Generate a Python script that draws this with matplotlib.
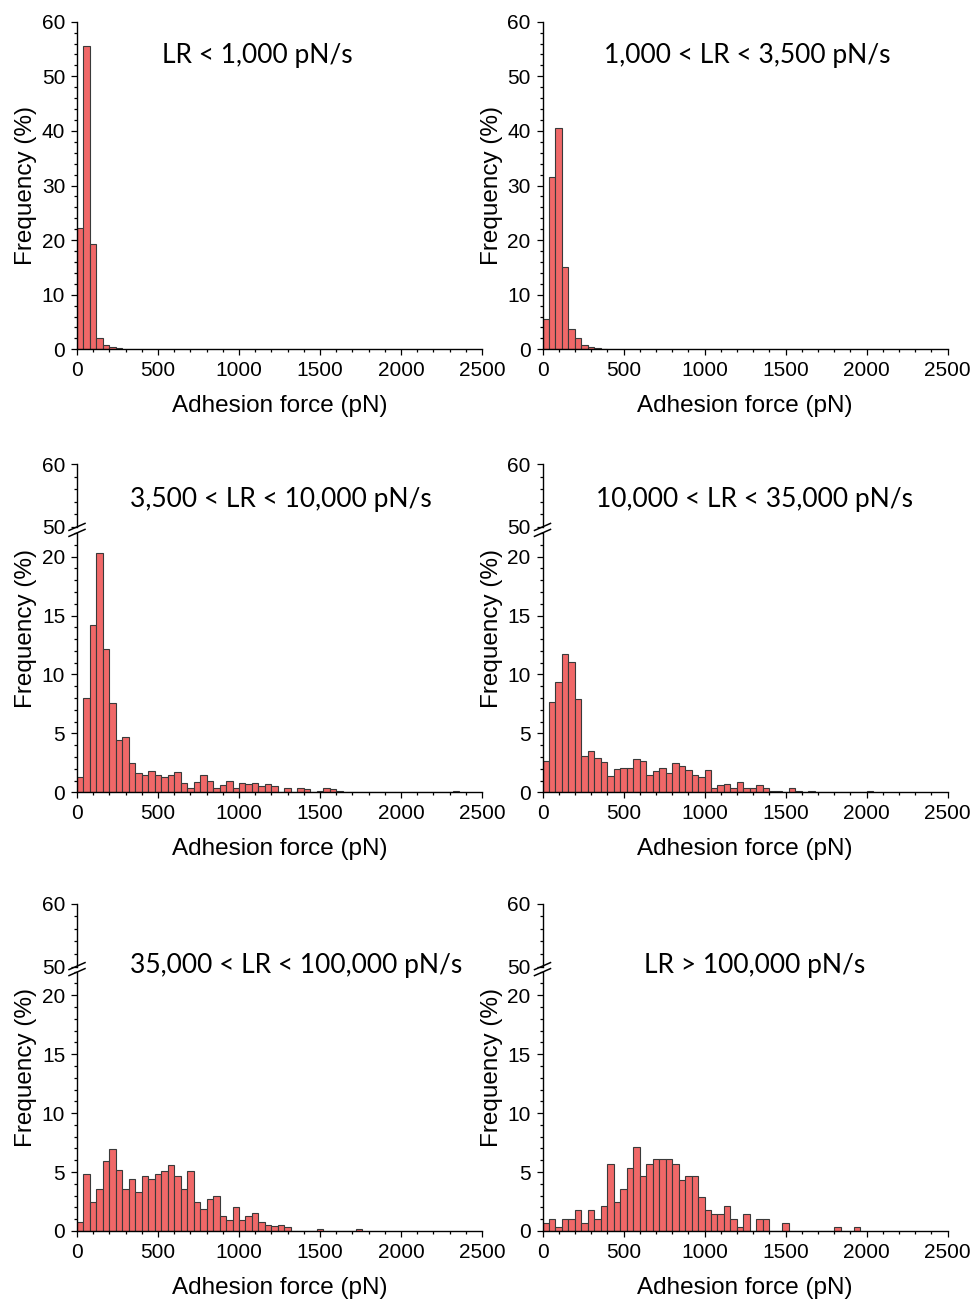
### Adhesion force histograms for six loading-rate ranges
###

import numpy as np
import matplotlib
matplotlib.use("Agg")
import matplotlib.pyplot as plt
from matplotlib.ticker import MultipleLocator

bin_width = 40  # pN

titles = ["LR < 1,000 pN/s",
          "1,000 < LR < 3,500 pN/s",
          "3,500 < LR < 10,000 pN/s",
          "10,000 < LR < 35,000 pN/s",
          "35,000 < LR < 100,000 pN/s",
          "LR > 100,000 pN/s"]

# frequency (%) per 40 pN bin, starting at 0 pN
freq_lr_1k = [22.2, 55.6, 19.2, 2.0, 0.7, 0.4, 0.2]

freq_lr_3k5 = [5.6, 31.5, 40.5, 15.1, 3.8, 2.1, 0.7, 0.4, 0.2, 0.1]

freq_lr_10k = [1.3, 8.0, 14.2, 20.3, 12.2, 7.6, 4.4, 4.7, 2.5, 1.6,
               1.5, 1.8, 1.5, 1.3, 1.5, 1.7, 0.8, 0.4, 0.9, 1.5,
               1.0, 0.4, 0.6, 1.0, 0.4, 0.8, 0.7, 0.8, 0.55, 0.7,
               0.55, 0, 0.4, 0, 0.4, 0.25, 0, 0.1, 0.4, 0.25,
               0.1, 0, 0, 0, 0, 0, 0, 0, 0, 0,
               0, 0, 0, 0, 0, 0, 0, 0, 0.1]

freq_lr_35k = [2.65, 7.7, 9.35, 11.7, 11.05, 7.9, 3.1, 3.5, 2.95, 2.6,
               1.35, 2.0, 2.1, 2.1, 2.8, 2.65, 1.45, 1.8, 2.1, 1.65,
               2.45, 2.2, 1.9, 1.5, 1.3, 1.9, 0.35, 0.6, 0.7, 0.35,
               0.85, 0.35, 0.4, 0.6, 0.35, 0.15, 0.15, 0.05, 0.35, 0.1,
               0, 0.1, 0, 0, 0, 0, 0, 0, 0, 0,
               0.1]

freq_lr_100k = [0.75, 4.85, 2.45, 3.55, 5.95, 6.95, 5.15, 3.55, 4.45, 3.3,
                4.7, 4.45, 4.85, 5.05, 5.6, 4.65, 3.55, 5.05, 2.45, 1.85,
                2.75, 3.0, 1.3, 0.95, 2.0, 0.95, 1.25, 1.5, 0.75, 0.55,
                0.4, 0.55, 0.35, 0, 0, 0, 0, 0.15, 0, 0,
                0, 0, 0, 0.15]

freq_lr_max = [0.7, 1.0, 0.35, 1.0, 1.0, 1.75, 0.7, 1.75, 1.0, 2.1,
               5.7, 2.5, 3.55, 5.35, 7.15, 4.65, 5.7, 6.1, 6.1, 6.1,
               5.7, 4.3, 4.65, 4.65, 2.85, 1.75, 1.4, 1.4, 2.15, 1.0,
               0.35, 1.4, 0, 1.0, 1.0, 0, 0, 0.7, 0, 0,
               0, 0, 0, 0, 0, 0.3, 0, 0, 0.3]

series = [freq_lr_1k, freq_lr_3k5, freq_lr_10k,
          freq_lr_35k, freq_lr_100k, freq_lr_max]

W, H = 975, 1301
bar_color = '#F06868'
edge_color = '#3a3a3a'
tick_font = 'Liberation Sans'
title_font = 'Lato'

fig = plt.figure(figsize=(W / 100, H / 100), dpi=100)


def add_px_axes(x, top, width, bottom):
    # axes placed with pixel coordinates of the figure
    return fig.add_axes([x / W, 1 - bottom / H, width / W, (bottom - top) / H])


def style_ticks(ax):
    ax.tick_params(which='both', direction='out', width=0.9,
                   labelsize=15, pad=4)
    ax.tick_params(which='major', length=4.5)
    ax.tick_params(which='minor', length=2.5)
    for lab in ax.get_xticklabels() + ax.get_yticklabels():
        lab.set_fontfamily(tick_font)
    for s in ['top', 'right']:
        ax.spines[s].set_visible(False)
    for s in ['left', 'bottom']:
        ax.spines[s].set_linewidth(1.0)


def draw_bars(ax, freq):
    x = np.arange(len(freq)) * bin_width
    ax.bar(x, freq, width=bin_width, align='edge', color=bar_color,
           edgecolor=edge_color, linewidth=0.8)
    ax.set_xlim(0, 2500)
    ax.xaxis.set_major_locator(MultipleLocator(500))
    ax.xaxis.set_minor_locator(MultipleLocator(100))


col_x = [77, 542.5]
col_w = 405
title_x = [257, 747, 281, 755, 296, 755]
title_y = [55, 55, 500, 500, 965, 965]

# rows 2 and 3 have a broken y axis: (upper top, upper bottom, lower top, lower bottom)
broken_rows = [(464.3, 526.8, 533.0, 792.3),
               (903.5, 966.6, 971.6, 1231.0)]

for i, freq in enumerate(series):
    col = i % 2
    row = i // 2
    x0 = col_x[col]
    if row == 0:
        top, bottom = 21.7, 349.3
        ax = add_px_axes(x0, top, col_w, bottom)
        draw_bars(ax, freq)
        ax.set_ylim(0, 60)
        ax.yaxis.set_major_locator(MultipleLocator(10))
        ax.yaxis.set_minor_locator(MultipleLocator(2))
        style_ticks(ax)
        row_top = top
    else:
        ut, ub, lt, lb = broken_rows[row - 1]
        ax_up = add_px_axes(x0, ut, col_w, ub)
        draw_bars(ax_up, freq)
        ax_up.set_ylim(50, 60)
        ax_up.set_yticks([50, 60])
        ax_up.yaxis.set_minor_locator(MultipleLocator(2))
        style_ticks(ax_up)
        ax_up.spines['bottom'].set_visible(False)
        ax_up.tick_params(axis='x', which='both', bottom=False, labelbottom=False)

        ax = add_px_axes(x0, lt, col_w, lb)
        draw_bars(ax, freq)
        ax.set_ylim(0, 22)
        ax.yaxis.set_major_locator(MultipleLocator(5))
        ax.yaxis.set_minor_locator(MultipleLocator(1))
        style_ticks(ax)

        # break marks on the y axis
        gap_c = (ub + lt) / 2
        for dy in (-3, 3):
            xs = [(x0 - 8) / W, (x0 + 8) / W]
            ys = [1 - (gap_c + dy + 3.5) / H, 1 - (gap_c + dy - 3.5) / H]
            fig.add_artist(plt.Line2D(xs, ys, color='black', linewidth=1.1))
        row_top, bottom = ut, lb

    # axis labels
    fig.text((x0 + col_w * 0.5) / W, 1 - (bottom + 57) / H, "Adhesion force (pN)",
             ha='center', va='center', fontsize=17.5, family=tick_font)
    fig.text((x0 - 51) / W, 1 - ((row_top + bottom) / 2) / H, "Frequency (%)",
             ha='center', va='center', rotation=90, fontsize=17.5, family=tick_font)
    fig.text(title_x[i] / W, 1 - title_y[i] / H, titles[i],
             ha='center', va='center', fontsize=19, family=title_font)

plt.savefig("out.png", dpi=100)
